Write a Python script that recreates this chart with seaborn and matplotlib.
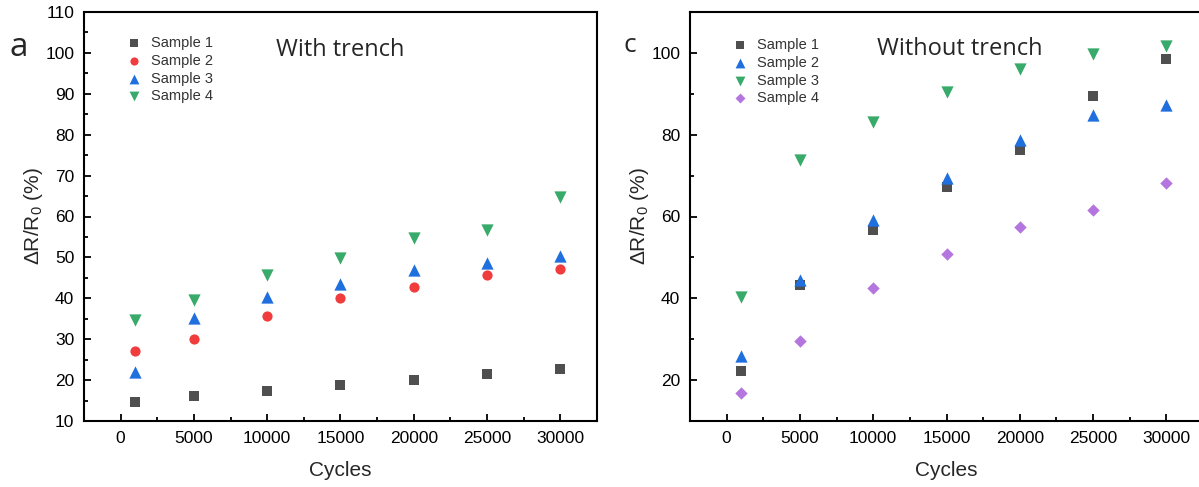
import numpy as np
import pandas as pd
import matplotlib
matplotlib.use("Agg")
import matplotlib.pyplot as plt
from matplotlib.ticker import MultipleLocator
import seaborn as sns

# Cycle counts shared by both panels
cycles = [1000, 5000, 10000, 15000, 20000, 25000, 30000]

# Panel a: with trench
with_s1 = [14.7, 16.1, 17.3, 18.7, 20.0, 21.4, 22.7]
with_s2 = [27.1, 30.0, 35.6, 40.0, 42.8, 45.6, 47.2]
with_s3 = [21.9, 35.2, 40.3, 43.5, 46.9, 48.6, 50.3]
with_s4 = [34.8, 39.7, 45.7, 49.9, 54.7, 56.8, 64.8]

# Panel c: without trench
without_s1 = [22.3, 43.3, 56.6, 67.2, 76.2, 89.5, 98.5]
without_s2 = [25.8, 44.5, 59.1, 69.4, 78.6, 84.8, 87.3]
without_s3 = [40.3, 73.8, 83.0, 90.5, 96.1, 99.8, 101.6]
without_s4 = [16.8, 29.6, 42.4, 50.9, 57.4, 61.6, 68.1]

labels = ["Sample 1", "Sample 2", "Sample 3", "Sample 4"]

GRAY = "#4f4f4f"
RED = "#f03c3c"
BLUE = "#1f6fde"
GREEN = "#38aa6a"
PURPLE = "#b476de"

sns.set_theme(style="ticks")
plt.rcParams["font.family"] = ["Liberation Sans", "DejaVu Sans"]
plt.rcParams["mathtext.fontset"] = "custom"
plt.rcParams["mathtext.rm"] = "Liberation Sans"
plt.rcParams["mathtext.it"] = "Liberation Sans"

W, H = 1199, 487
fig = plt.figure(figsize=(W / 100, H / 100), dpi=100)
ax1 = fig.add_axes([84 / W, 1 - 421 / H, (597 - 84) / W, (421 - 12) / H])
ax2 = fig.add_axes([690 / W, 1 - 421 / H, (1203 - 690) / W, (421 - 12) / H])


def draw_panel(ax, series, styles, title, tag, tag_size, tag_xy, title_xy,
               y_major, y_minor, legend_anchor):
    for vals, lab, (marker, color, size) in zip(series, labels, styles):
        df = pd.DataFrame({"Cycles": cycles, "value": vals})
        sns.scatterplot(data=df, x="Cycles", y="value", ax=ax, marker=marker,
                        color=color, s=size, linewidth=0, label=lab,
                        legend=True)
    ax.set_xlim(-2500, 32500)
    ax.set_ylim(10, 110)
    ax.xaxis.set_major_locator(MultipleLocator(5000))
    ax.xaxis.set_minor_locator(MultipleLocator(2500))
    ax.yaxis.set_major_locator(MultipleLocator(y_major))
    ax.yaxis.set_minor_locator(MultipleLocator(y_minor))
    ax.set_xticks(np.arange(0, 30001, 5000))
    ax.tick_params(which="both", direction="in", width=1.3, colors="black",
                   top=False, right=False, labelsize=12.5)
    ax.tick_params(which="major", length=5, pad=7)
    ax.tick_params(which="minor", length=3)
    for sp in ax.spines.values():
        sp.set_visible(True)
        sp.set_linewidth(1.5)
        sp.set_color("black")
    ax.set_xlabel("Cycles", fontsize=15, labelpad=11)
    ax.set_ylabel(r"$\mathrm{\Delta R/R_0}$ (%)", fontsize=15, labelpad=0)
    ax.text(title_xy[0], title_xy[1], title, fontsize=17,
            family="Open Sans", ha="center", va="center")
    fig.text(tag_xy[0] / W, 1 - tag_xy[1] / H, tag, fontsize=tag_size,
             family="Open Sans", ha="center", va="center")
    leg = ax.legend(loc="upper left", bbox_to_anchor=legend_anchor,
                    frameon=False, fontsize=10.5, handletextpad=0.5,
                    labelspacing=0.25, borderaxespad=0, handlelength=1.2,
                    markerscale=0.8)
    for t in leg.get_texts():
        t.set_color("#333333")
    return leg


draw_panel(ax1, [with_s1, with_s2, with_s3, with_s4],
           [("s", GRAY, 52), ("o", RED, 54), ("^", BLUE, 78), ("v", GREEN, 78)],
           "With trench", "a", 24, (19, 47), (15000, 100.7), 10, 5,
           (0.07, 0.955))

draw_panel(ax2, [without_s1, without_s2, without_s3, without_s4],
           [("s", GRAY, 52), ("^", BLUE, 78), ("v", GREEN, 78), ("D", PURPLE, 40)],
           "Without trench", "c", 19, (630, 45), (15900, 101.0), 20, 10,
           (0.07, 0.95))

fig.savefig("out.png", dpi=100)
